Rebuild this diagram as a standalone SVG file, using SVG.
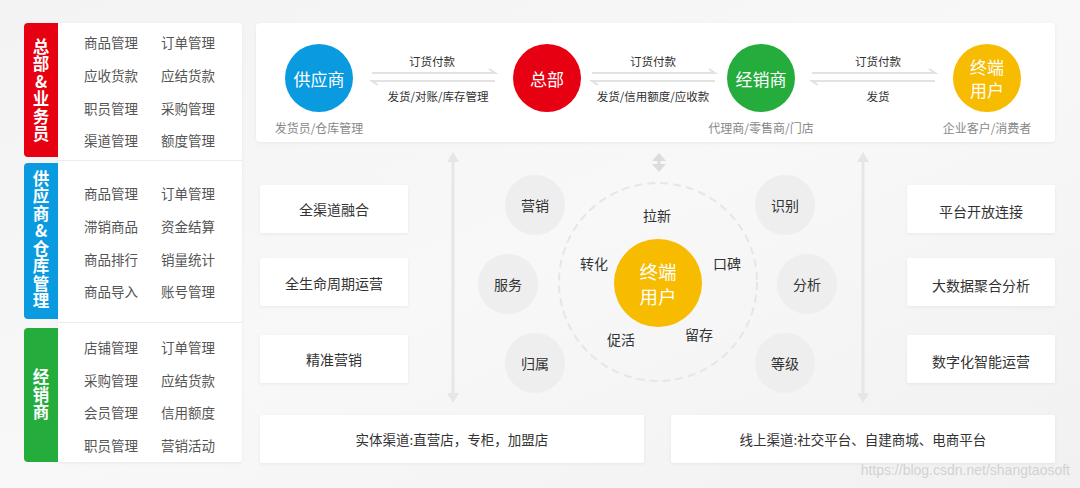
<svg xmlns="http://www.w3.org/2000/svg" width="1080" height="488" viewBox="0 0 1080 488">
<style>
text{font-family:"Noto Sans CJK SC","Noto Sans",sans-serif;dominant-baseline:central;text-anchor:middle}
.item{font-size:13.5px;fill:#555}
.tab{font-size:16.5px;fill:#fff;font-weight:bold;writing-mode:vertical-rl;text-orientation:upright;letter-spacing:1px}
.big{font-size:17px;fill:#fff}
.lbl{font-size:11.5px;fill:#333}
.sub{font-size:12px;fill:#888}
.ring{font-size:14px;fill:#333}
.box{fill:#fff;filter:url(#sh)}
.btxt{font-size:14px;fill:#333}
.gc{fill:#eeeeee}
.ln{stroke:#e2e2e2;stroke-width:2;fill:none}
.va{stroke:#e6e6e6;stroke-width:3;fill:none}
.vh{fill:#e6e6e6}
</style>
<defs>
<filter id="sh" x="-10%" y="-20%" width="120%" height="150%">
<feDropShadow dx="0" dy="1" stdDeviation="1.5" flood-color="#000" flood-opacity="0.06"/>
</filter>
<linearGradient id="bg" x1="0" y1="0" x2="1" y2="1">
<stop offset="0" stop-color="#f3f3f3"/>
<stop offset="0.5" stop-color="#f8f8f8"/>
<stop offset="1" stop-color="#f1f1f1"/>
</linearGradient>
</defs>
<rect x="0" y="0" width="1080" height="488" fill="url(#bg)"/>

<!-- left panel -->
<g id="left-panel">
<rect x="58" y="23" width="184" height="439" rx="3" class="box"/>
<line x1="58" y1="160.5" x2="242" y2="160.5" stroke="#ececec"/>
<line x1="58" y1="322.5" x2="242" y2="322.5" stroke="#ececec"/>
</g>
<g id="tab-hq">
<path d="M58 23 H28 a4 4 0 0 0 -4 4 V153 a4 4 0 0 0 4 4 H58 Z" fill="#e60012"/>
<text class="tab" x="41" y="90.5">总部&amp;业务员</text>
<text class="item" x="111" y="42">商品管理</text><text class="item" x="188" y="42">订单管理</text>
<text class="item" x="111" y="75">应收货款</text><text class="item" x="188" y="75">应结货款</text>
<text class="item" x="111" y="108">职员管理</text><text class="item" x="188" y="108">采购管理</text>
<text class="item" x="111" y="140">渠道管理</text><text class="item" x="188" y="140">额度管理</text>
</g>
<g id="tab-supplier">
<path d="M58 163 H28 a4 4 0 0 0 -4 4 V315 a4 4 0 0 0 4 4 H58 Z" fill="#0a9ae0"/>
<text class="tab" x="41" y="240">供应商&amp;仓库管理</text>
<text class="item" x="111" y="193">商品管理</text><text class="item" x="188" y="193">订单管理</text>
<text class="item" x="111" y="226">滞销商品</text><text class="item" x="188" y="226">资金结算</text>
<text class="item" x="111" y="259">商品排行</text><text class="item" x="188" y="259">销量统计</text>
<text class="item" x="111" y="291">商品导入</text><text class="item" x="188" y="291">账号管理</text>
</g>
<g id="tab-dealer">
<path d="M58 328 H28 a4 4 0 0 0 -4 4 V458 a4 4 0 0 0 4 4 H58 Z" fill="#24ac3c"/>
<text class="tab" x="41" y="395">经销商</text>
<text class="item" x="111" y="347">店铺管理</text><text class="item" x="188" y="347">订单管理</text>
<text class="item" x="111" y="380">采购管理</text><text class="item" x="188" y="380">应结货款</text>
<text class="item" x="111" y="412">会员管理</text><text class="item" x="188" y="412">信用额度</text>
<text class="item" x="111" y="445">职员管理</text><text class="item" x="188" y="445">营销活动</text>
</g>

<!-- top flow card -->
<g id="top-card"><rect x="256" y="23" width="799" height="119" rx="4" class="box"/></g>
<g id="node-supplier">
<circle cx="319" cy="78" r="34" fill="#0a9ae0"/>
<text class="big" x="319" y="78">供应商</text>
<text class="sub" x="319" y="127">发货员/仓库管理</text>
</g>
<g id="node-hq">
<circle cx="547" cy="78" r="34" fill="#e60012"/>
<text class="big" x="547" y="78">总部</text>
</g>
<g id="node-dealer">
<circle cx="761" cy="78" r="34" fill="#24ac3c"/>
<text class="big" x="761" y="78">经销商</text>
<text class="sub" x="761" y="127">代理商/零售商/门店</text>
</g>
<g id="node-enduser">
<circle cx="987" cy="78" r="34" fill="#f7bb00"/>
<text class="big" x="987" y="66.5">终端</text>
<text class="big" x="987" y="89.5">用户</text>
<text class="sub" x="987" y="127">企业客户/消费者</text>
</g>

<g id="connectors">
<path class="ln" d="M372 73 H495 L489 69"/>
<path class="ln" d="M495 81 H372 L378 85"/>
<text class="lbl" x="432" y="61">订货付款</text>
<text class="lbl" x="438" y="96">发货/对账/库存管理</text>
<path class="ln" d="M592 73 H715 L709 69"/>
<path class="ln" d="M715 81 H592 L598 85"/>
<text class="lbl" x="653" y="61">订货付款</text>
<text class="lbl" x="653" y="96">发货/信用额度/应收款</text>
<path class="ln" d="M812 73 H935 L929 69"/>
<path class="ln" d="M935 81 H812 L818 85"/>
<text class="lbl" x="878" y="61">订货付款</text>
<text class="lbl" x="878" y="96">发货</text>
<!-- vertical double arrows -->
<line class="va" x1="453" y1="160" x2="453" y2="395"/>
<polygon class="vh" points="447,162 453,152 459,162"/>
<polygon class="vh" points="447,393 453,403 459,393"/>
<line class="va" x1="863" y1="160" x2="863" y2="395"/>
<polygon class="vh" points="857,162 863,152 869,162"/>
<polygon class="vh" points="857,393 863,403 869,393"/>
<polygon points="652,161 659,153 666,161" fill="#dcdcdc"/>
<rect x="657.5" y="160" width="3" height="5" fill="#dcdcdc"/>
<polygon points="652,164 659,172 666,164" fill="#dcdcdc"/>
</g>

<!-- center -->
<g id="center-ring">
<circle cx="658" cy="282" r="99" fill="none" stroke="#e6e6e6" stroke-width="2" stroke-dasharray="8 5"/>
<text class="ring" x="657" y="215">拉新</text>
<text class="ring" x="594" y="263">转化</text>
<text class="ring" x="727" y="263">口碑</text>
<text class="ring" x="621" y="339">促活</text>
<text class="ring" x="699" y="334">留存</text>
</g>
<g id="center-user">
<circle cx="658" cy="283" r="44" fill="#f7bb00"/>
<text x="658" y="270.5" style="font-size:18.5px;fill:#fff">终端</text>
<text x="658" y="295.5" style="font-size:18.5px;fill:#fff">用户</text>
</g>
<g id="c-yingxiao"><circle class="gc" cx="535" cy="205" r="30"/><text class="ring" x="535" y="205">营销</text></g>
<g id="c-fuwu"><circle class="gc" cx="508" cy="284" r="30"/><text class="ring" x="508" y="284">服务</text></g>
<g id="c-guishu"><circle class="gc" cx="535" cy="363" r="30"/><text class="ring" x="535" y="363">归属</text></g>
<g id="c-shibie"><circle class="gc" cx="785" cy="205" r="30"/><text class="ring" x="785" y="205">识别</text></g>
<g id="c-fenxi"><circle class="gc" cx="807" cy="284" r="30"/><text class="ring" x="807" y="284">分析</text></g>
<g id="c-dengji"><circle class="gc" cx="785" cy="363" r="30"/><text class="ring" x="785" y="363">等级</text></g>

<!-- side boxes -->
<g id="box-l1"><rect class="box" x="260" y="185" width="148" height="48" rx="2"/><text class="btxt" x="334" y="209">全渠道融合</text></g>
<g id="box-l2"><rect class="box" x="260" y="258" width="148" height="48" rx="2"/><text class="btxt" x="334" y="283">全生命周期运营</text></g>
<g id="box-l3"><rect class="box" x="260" y="335" width="148" height="48" rx="2"/><text class="btxt" x="334" y="359">精准营销</text></g>
<g id="box-r1"><rect class="box" x="907" y="185" width="148" height="48" rx="2"/><text class="btxt" x="981" y="211">平台开放连接</text></g>
<g id="box-r2"><rect class="box" x="907" y="258" width="148" height="48" rx="2"/><text class="btxt" x="981" y="285">大数据聚合分析</text></g>
<g id="box-r3"><rect class="box" x="907" y="335" width="148" height="48" rx="2"/><text class="btxt" x="981" y="361">数字化智能运营</text></g>
<g id="box-b1"><rect class="box" x="260" y="415" width="384" height="48" rx="2"/><text class="btxt" x="452" y="439" style="font-size:13.5px">实体渠道:直营店，专柜，加盟店</text></g>
<g id="box-b2"><rect class="box" x="671" y="415" width="384" height="48" rx="2"/><text class="btxt" x="863" y="439" style="font-size:13.5px">线上渠道:社交平台、自建商城、电商平台</text></g>

<text x="1070" y="470" style="text-anchor:end;font-family:'Liberation Sans Narrow','Liberation Sans',sans-serif;font-size:14px;fill:#d2d2d2">https://blog.csdn.net/shangtaosoft</text>
</svg>
